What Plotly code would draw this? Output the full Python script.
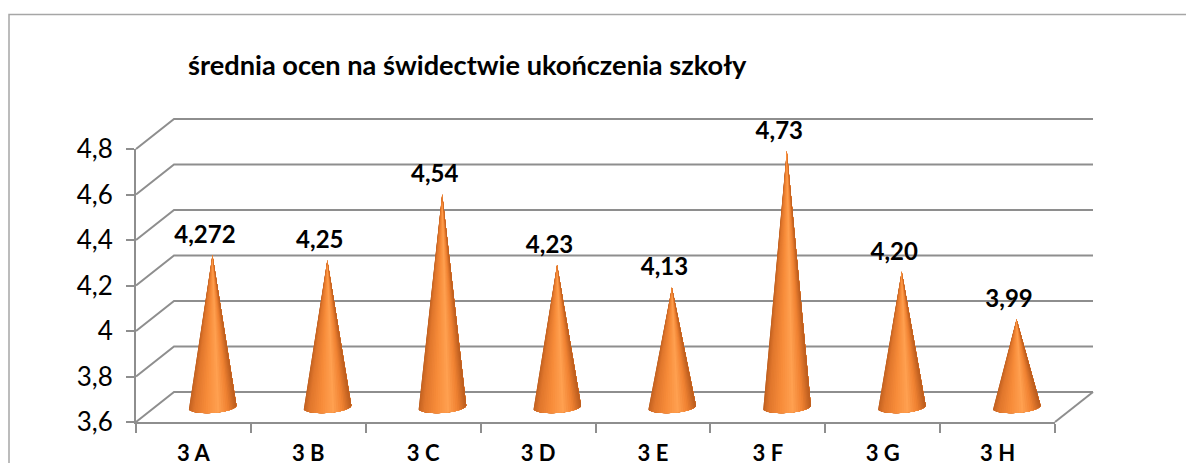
import math
import plotly.graph_objects as go

categories = ["3 A", "3 B", "3 C", "3 D", "3 E", "3 F", "3 G", "3 H"]
values = [4.272, 4.25, 4.54, 4.23, 4.13, 4.73, 4.20, 3.99]
value_labels = ["4,272", "4,25", "4,54", "4,23", "4,13", "4,73", "4,20", "3,99"]
y_ticks = [3.6, 3.8, 4.0, 4.2, 4.4, 4.6, 4.8]
y_tick_labels = ["3,6", "3,8", "4", "4,2", "4,4", "4,6", "4,8"]
title_text = "średnia ocen na świdectwie ukończenia szkoły"

W, H = 1186, 463
L, R, T, B = 136, 1055, 149, 422          # front axes box
AL, AR, AT, AB = 100, 1120, 100, 440      # wider drawing box for the 3-D walls
PX = (R - L) / len(categories)
PY = (B - T) / (y_ticks[-1] - y_ticks[0])
dx, dy = 38 / PX, 30 / PY
GRID = "#8e8e8e"
FONT = "Lato, Carlito, Calibri, sans-serif"

stops = [(0.0, (192, 96, 32)), (0.12, (224, 118, 44)), (0.38, (247, 140, 58)),
         (0.62, (255, 160, 80)), (0.82, (240, 130, 50)), (1.0, (186, 92, 30))]

def shade(t):
    for (a, ca), (b, cb) in zip(stops, stops[1:]):
        if t <= b:
            f = (t - a) / (b - a)
            return "rgb(%d,%d,%d)" % tuple(round(p + (q - p) * f) for p, q in zip(ca, cb))
    return "rgb(%d,%d,%d)" % stops[-1][1]

fig = go.Figure()
x0, x1 = -0.5, len(categories) - 0.5

# Invisible trace that keeps the real front axes on the page
fig.add_trace(go.Scatter(x=list(range(len(categories))), y=values, mode="markers",
                         marker=dict(opacity=0), xaxis="x", yaxis="y", hoverinfo="skip"))

# Back wall and side wall gridlines, projected from the value ticks
gx, gy = [], []
for v in y_ticks:
    gx += [x0, x0 + dx, x1 + dx, None]
    gy += [v, v + dy, v + dy, None]
gx += [x1, x1 + dx, None]
gy += [y_ticks[0], y_ticks[0] + dy, None]
fig.add_trace(go.Scatter(x=gx, y=gy, mode="lines", line=dict(color=GRID, width=2),
                         xaxis="x2", yaxis="y2", hoverinfo="skip"))

# Cones: nested fills painted left to right, so the bands have no seams
N = 32
M = 32
rx = 24 / PX
ry = 6 / PY
tilt = 1.5 / PY
base_y = y_ticks[0] + 15 / PY
tip_shift = 14 / PY
for k in range(N):
    th0 = -math.pi / 2 + math.pi * k / N
    t = (math.sin(th0 + math.pi / (2 * N)) + 1) / 2
    xs, ys = [], []
    for i, v in enumerate(values):
        cx = i + dx / 2
        xs.append(cx)
        ys.append(v + tip_shift)
        for j in range(M + 1):
            th = th0 + (math.pi / 2 - th0) * j / M
            xs.append(cx + rx * math.sin(th))
            ys.append(base_y - ry * math.cos(th) + tilt * math.sin(th))
        xs += [cx, None]
        ys += [v + tip_shift, None]
    c = shade(t)
    fig.add_trace(go.Scatter(x=xs, y=ys, mode="lines", fill="toself", fillcolor=c,
                             line=dict(width=0), xaxis="x2", yaxis="y2", hoverinfo="skip"))

# Value labels
fig.add_trace(go.Scatter(
    x=[i + 0.1 for i in range(len(categories))],
    y=[v + 32 / PY for v in values],
    mode="text", text=value_labels, textposition="middle center",
    textfont=dict(family=FONT, size=24, color="black", weight="bold"),
    xaxis="x2", yaxis="y2", hoverinfo="skip"))

fig.update_layout(
    width=W, height=H, autosize=False, showlegend=False,
    paper_bgcolor="white", plot_bgcolor="rgba(0,0,0,0)",
    margin=dict(l=AL, r=W - AR, t=AT, b=H - AB, pad=0),
    font=dict(family=FONT, color="black"),
    hovermode=False,
    xaxis=dict(
        domain=[(L - AL) / (AR - AL), (R - AL) / (AR - AL)],
        range=[x0, x1], tickmode="array", automargin=False,
        tickvals=list(range(len(categories))), ticktext=categories,
        ticks="", ticklabelstandoff=11, showgrid=False, zeroline=False,
        showline=True, linecolor=GRID, linewidth=2,
        tickfont=dict(family=FONT, size=22, color="black", weight="bold"),
        minor=dict(tickmode="array", tickvals=[i - 0.5 for i in range(len(categories) + 1)],
                   ticks="outside", ticklen=9, tickwidth=2, tickcolor=GRID, showgrid=False),
    ),
    yaxis=dict(
        domain=[(AB - B) / (AB - AT), (AB - T) / (AB - AT)],
        range=[y_ticks[0], y_ticks[-1]], tickmode="array", automargin=False,
        tickvals=y_ticks, ticktext=y_tick_labels,
        ticks="outside", ticklen=8, tickwidth=2, tickcolor=GRID,
        ticklabelstandoff=8, showgrid=False, zeroline=False,
        showline=True, linecolor=GRID, linewidth=2,
        tickfont=dict(family=FONT, size=26, color="black"),
    ),
    xaxis2=dict(domain=[0, 1], anchor="y2", visible=False, automargin=False,
                range=[x0 + (AL - L) / PX, x0 + (AR - L) / PX]),
    yaxis2=dict(domain=[0, 1], anchor="x2", visible=False, automargin=False,
                range=[y_ticks[0] + (B - AB) / PY, y_ticks[0] + (B - AT) / PY]),
    shapes=[dict(type="rect", xref="paper", yref="paper", layer="below",
                 x0=(9 - AL) / (AR - AL), x1=2, y1=(AB - 14.5) / (AB - AT), y0=-1,
                 line=dict(color="#a6a6a6", width=1.5), fillcolor="rgba(0,0,0,0)")],
    annotations=[dict(text=title_text, xref="paper", yref="paper",
                      x=(186 - AL) / (AR - AL), y=(AB - 65) / (AB - AT),
                      xanchor="left", yanchor="middle", showarrow=False,
                      font=dict(family=FONT, size=27.2, color="black", weight="bold"))],
)

fig.write_html("out.html", config=dict(displayModeBar=False),
               post_script="document.body.style.margin='0';document.body.style.overflow='hidden';")
